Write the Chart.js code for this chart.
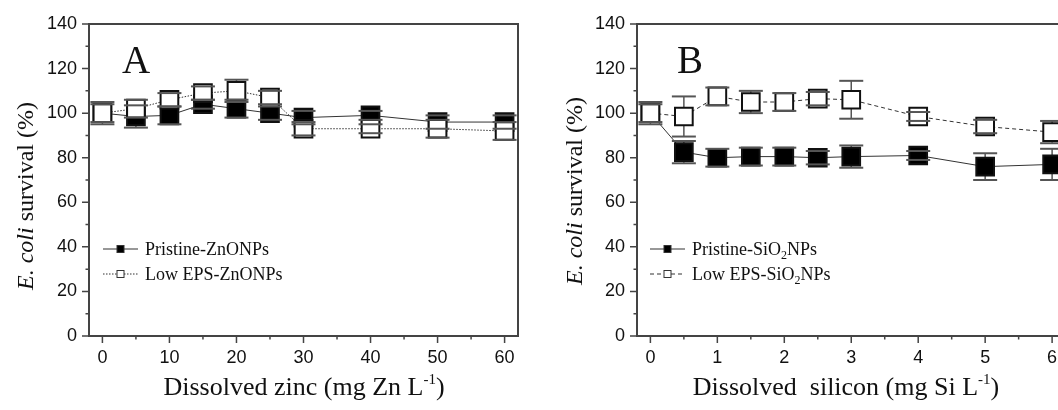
<!DOCTYPE html>
<html>
<head>
<meta charset="utf-8">
<script src="https://cdn.jsdelivr.net/npm/chart.js@4.4.0/dist/chart.umd.min.js"></script>
<style>
  html, body { margin: 0; padding: 0; background: #fff; overflow: hidden; width: 1058px; height: 410px; position: relative; }
  canvas { position: absolute; top: 0; }
  #chartA { left: 0; }
  #chartB { left: 540px; }
</style>
</head>
<body>
<canvas id="chartA" width="540" height="410"></canvas>
<canvas id="chartB" width="540" height="410"></canvas>
<script>
// Panel A: dissolved zinc
const zincDoses = [0, 5, 10, 15, 20, 25, 30, 40, 50, 60];
const pristineZn = [100, 98.5, 99, 104, 102, 100, 98, 99, 96, 96];
const pristineZnErr = [4, 5, 4, 2, 4, 3, 3, 2, 3, 3];
const lowEpsZn = [100, 102, 106, 109, 110, 107, 93, 93, 93, 92];
const lowEpsZnErr = [5, 4, 3, 3, 5, 3, 3, 2, 4, 4];
const zincTicks = [0, 10, 20, 30, 40, 50, 60];
const zincMinorTicks = [5, 15, 25, 35, 45, 55];

// Panel B: dissolved silicon
const siliconDoses = [0, 0.5, 1, 1.5, 2, 2.5, 3, 4, 5, 6];
const pristineSi = [100, 82.5, 80, 80.5, 80.5, 80, 80.5, 81, 76, 77];
const pristineSiErr = [4, 5, 4, 4, 4, 3, 5, 2, 6, 7];
const lowEpsSi = [100, 98.5, 107.5, 105, 105, 106.5, 106, 98.5, 94, 91.5];
const lowEpsSiErr = [5, 9, 4, 5, 4, 3, 8.5, 2, 3, 5];
const siliconTicks = [0, 1, 2, 3, 4, 5, 6];
const siliconMinorTicks = [0.5, 1.5, 2.5, 3.5, 4.5, 5.5];

const survivalTicks = [0, 20, 40, 60, 80, 100, 120, 140];
const survivalMinorTicks = [10, 30, 50, 70, 90, 110, 130];

const SERIF = '"Liberation Serif", "Times New Roman", serif';
const SANS = '"Liberation Sans", Arial, sans-serif';

// draw a row of text pieces (for italics, sub/superscripts), centred on cx
function drawParts(ctx, parts, cx, baseline, alignLeft) {
  let w = 0;
  parts.forEach((p) => {
    ctx.font = p.font;
    p.w = ctx.measureText(p.text).width;
    w += p.w;
  });
  let x = alignLeft ? cx : cx - w / 2;
  ctx.textAlign = "left";
  ctx.textBaseline = "alphabetic";
  parts.forEach((p) => {
    ctx.font = p.font;
    ctx.fillText(p.text, x, baseline + (p.dy || 0));
    x += p.w;
  });
}

// frame + major/minor tick marks
const framePlugin = {
  id: "frame",
  afterDraw(chart, args, opts) {
    const { ctx, chartArea: a, scales } = chart;
    ctx.save();
    ctx.strokeStyle = "#444";
    ctx.lineWidth = 2;
    ctx.strokeRect(a.left, a.top, a.right - a.left, a.bottom - a.top);
    ctx.lineWidth = 1.5;
    ctx.beginPath();
    opts.xMajor.forEach((v) => {
      const px = scales.x.getPixelForValue(v);
      ctx.moveTo(px, a.bottom);
      ctx.lineTo(px, a.bottom + 7);
    });
    opts.xMinor.forEach((v) => {
      const px = scales.x.getPixelForValue(v);
      ctx.moveTo(px, a.bottom);
      ctx.lineTo(px, a.bottom + 3.5);
    });
    survivalTicks.forEach((v) => {
      const py = scales.y.getPixelForValue(v);
      ctx.moveTo(a.left, py);
      ctx.lineTo(a.left - 7, py);
    });
    survivalMinorTicks.forEach((v) => {
      const py = scales.y.getPixelForValue(v);
      ctx.moveTo(a.left, py);
      ctx.lineTo(a.left - 3.5, py);
    });
    ctx.stroke();
    ctx.restore();
  },
};

// error bars: whiskers under the squares, caps on top
const errorBarPlugin = {
  id: "errorBars",
  beforeDatasetsDraw(chart) {
    const { ctx, scales } = chart;
    ctx.save();
    ctx.strokeStyle = "#555";
    ctx.lineWidth = 1.5;
    chart.data.datasets.forEach((ds, i) => {
      chart.getDatasetMeta(i).data.forEach((pt, j) => {
        const hi = scales.y.getPixelForValue(ds.data[j].y + ds.errors[j]);
        const lo = scales.y.getPixelForValue(ds.data[j].y - ds.errors[j]);
        ctx.beginPath();
        ctx.moveTo(pt.x, hi);
        ctx.lineTo(pt.x, lo);
        ctx.stroke();
      });
    });
    ctx.restore();
  },
  afterDatasetsDraw(chart) {
    const { ctx, scales } = chart;
    ctx.save();
    ctx.strokeStyle = "#555";
    ctx.lineWidth = 2;
    chart.data.datasets.forEach((ds, i) => {
      chart.getDatasetMeta(i).data.forEach((pt, j) => {
        [1, -1].forEach((s) => {
          const py = scales.y.getPixelForValue(ds.data[j].y + s * ds.errors[j]);
          ctx.beginPath();
          ctx.moveTo(pt.x - 12, py);
          ctx.lineTo(pt.x + 12, py);
          ctx.stroke();
        });
      });
    });
    ctx.restore();
  },
};

// titles, panel letter and legend
const textPlugin = {
  id: "texts",
  afterDraw(chart, args, o) {
    const ctx = chart.ctx;
    ctx.save();
    ctx.fillStyle = "#111";

    // panel letter
    ctx.font = "39px " + SERIF;
    ctx.textAlign = "left";
    ctx.textBaseline = "alphabetic";
    ctx.fillText(o.letter, o.letterX, 73);

    // y title
    ctx.save();
    ctx.translate(o.yTitleX, o.yTitleY);
    ctx.rotate(-Math.PI / 2);
    drawParts(ctx, [
      { text: "E. coli", font: "italic 24px " + SERIF },
      { text: " survival (%)", font: "24px " + SERIF },
    ], 0, 0);
    ctx.restore();

    // x title
    drawParts(ctx, [
      { text: o.xTitle, font: "26px " + SERIF },
      { text: "-1", font: "15px " + SERIF, dy: -11 },
      { text: ")", font: "26px " + SERIF },
    ], o.xTitleX, 395);

    // legend
    o.legend.forEach((item, k) => {
      const y = 249 + k * 25;
      ctx.save();
      ctx.strokeStyle = "#333";
      ctx.lineWidth = 1.2;
      ctx.setLineDash(item.dash);
      ctx.beginPath();
      ctx.moveTo(o.legendX, y);
      ctx.lineTo(o.legendX + 35, y);
      ctx.stroke();
      ctx.setLineDash([]);
      ctx.fillStyle = item.fill;
      ctx.fillRect(o.legendX + 14, y - 3.5, 7, 7);
      ctx.lineWidth = 1;
      ctx.strokeRect(o.legendX + 14, y - 3.5, 7, 7);
      ctx.restore();
      drawParts(ctx, item.parts, o.legendX + 42, y + 6, true);
    });
    ctx.restore();
  },
};

function makeDataset(label, xs, ys, errs, fill, dash, order) {
  return {
    label: label,
    data: xs.map((x, i) => ({ x: x, y: ys[i] })),
    errors: errs,
    order: order,
    borderColor: "#333",
    borderWidth: 1,
    borderDash: dash,
    pointStyle: "rect",
    pointRadius: 12.5,
    pointHoverRadius: 12.5,
    pointBorderWidth: 2,
    pointBorderColor: "#111",
    pointBackgroundColor: fill,
    backgroundColor: fill,
  };
}

function makeChart(id, cfg) {
  return new Chart(document.getElementById(id), {
    type: "line",
    data: { datasets: cfg.datasets },
    options: {
      responsive: false,
      animation: false,
      layout: { padding: { top: 24, right: cfg.padRight, bottom: 0, left: 0 } },
      scales: {
        x: {
          type: "linear",
          min: cfg.xMin,
          max: cfg.xMax,
          grid: { display: false, drawTicks: false, tickLength: 0 },
          border: { display: false },
          afterBuildTicks: (s) => { s.ticks = cfg.xTicks.map((v) => ({ value: v })); },
          afterFit: (s) => { s.height = 74; },
          ticks: { padding: 11, color: "#111", font: { family: SANS, size: 18 }, maxRotation: 0, autoSkip: false },
        },
        y: {
          min: 0,
          max: 140,
          grid: { display: false, drawTicks: false, tickLength: 0 },
          border: { display: false },
          afterBuildTicks: (s) => { s.ticks = survivalTicks.map((v) => ({ value: v })); },
          afterFit: (s) => { s.width = cfg.yWidth; },
          ticks: { padding: 12, color: "#111", font: { family: SANS, size: 18 } },
        },
      },
      plugins: {
        legend: { display: false },
        tooltip: { enabled: false },
        frame: { xMajor: cfg.xTicks, xMinor: cfg.xMinor },
        texts: cfg.texts,
      },
    },
    plugins: [errorBarPlugin, framePlugin, textPlugin],
  });
}

makeChart("chartA", {
  xMin: -2, xMax: 62, xTicks: zincTicks, xMinor: zincMinorTicks,
  padRight: 22, yWidth: 89,
  datasets: [
    makeDataset("Pristine-ZnONPs", zincDoses, pristineZn, pristineZnErr, "#000", [], 1),
    makeDataset("Low EPS-ZnONPs", zincDoses, lowEpsZn, lowEpsZnErr, "#fff", [1.5, 1.5], 0),
  ],
  texts: {
    letter: "A", letterX: 122,
    yTitleX: 33, yTitleY: 196,
    xTitle: "Dissolved zinc (mg Zn L", xTitleX: 304,
    legendX: 103,
    legend: [
      { dash: [], fill: "#000", parts: [{ text: "Pristine-ZnONPs", font: "18px " + SERIF }] },
      { dash: [1.5, 1.5], fill: "#fff", parts: [{ text: "Low EPS-ZnONPs", font: "18px " + SERIF }] },
    ],
  },
});

makeChart("chartB", {
  xMin: -0.2, xMax: 6.2, xTicks: siliconTicks, xMinor: siliconMinorTicks,
  padRight: 14, yWidth: 97,
  datasets: [
    makeDataset("Pristine-SiO2NPs", siliconDoses, pristineSi, pristineSiErr, "#000", [], 1),
    makeDataset("Low EPS-SiO2NPs", siliconDoses, lowEpsSi, lowEpsSiErr, "#fff", [4, 3], 0),
  ],
  texts: {
    letter: "B", letterX: 137,
    yTitleX: 42, yTitleY: 191,
    xTitle: "Dissolved  silicon (mg Si L", xTitleX: 306,
    legendX: 110,
    legend: [
      { dash: [], fill: "#000", parts: [
        { text: "Pristine-SiO", font: "18px " + SERIF },
        { text: "2", font: "12px " + SERIF, dy: 4 },
        { text: "NPs", font: "18px " + SERIF },
      ] },
      { dash: [4, 3], fill: "#fff", parts: [
        { text: "Low EPS-SiO", font: "18px " + SERIF },
        { text: "2", font: "12px " + SERIF, dy: 4 },
        { text: "NPs", font: "18px " + SERIF },
      ] },
    ],
  },
});
</script>
</body>
</html>
